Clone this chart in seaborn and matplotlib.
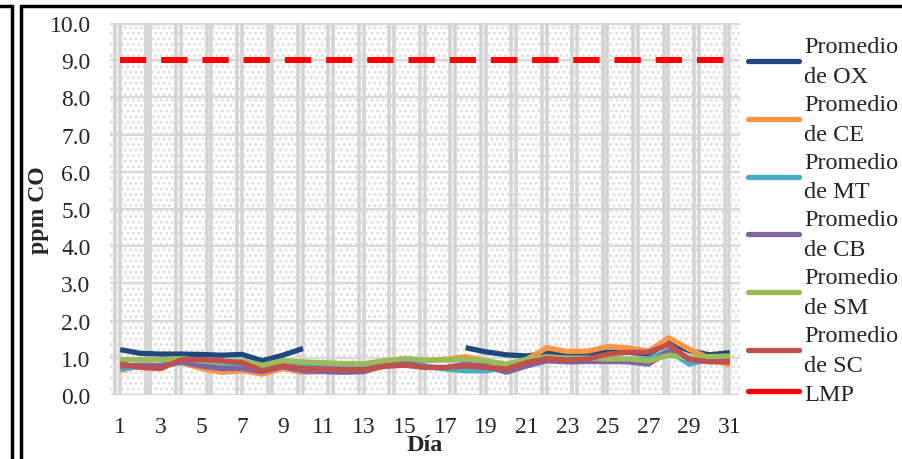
import numpy as np
import pandas as pd
import matplotlib
matplotlib.use("Agg")
import matplotlib.pyplot as plt
import seaborn as sns
from matplotlib.lines import Line2D
from matplotlib.patches import Rectangle

nan = np.nan

days = list(range(1, 32))

ox = [1.22, 1.12, 1.10, 1.10, 1.09, 1.07, 1.09, 0.92, 1.07, 1.25,
      nan, nan, nan, nan, nan, nan, nan,
      1.27, 1.16, 1.08, 1.05, 1.12, 1.10, 1.11, 1.15, 1.15, 1.10, 1.41,
      1.19, 1.08, 1.14]
ce = [0.65, 0.80, 0.80, 0.87, 0.71, 0.61, 0.65, 0.56, 0.71, 0.61,
      0.63, 0.63, 0.63, 0.77, 0.83, 0.92, 0.96, 1.03, 0.92, 0.78,
      0.96, 1.27, 1.17, 1.18, 1.30, 1.27, 1.18, 1.54, 1.23, 0.99, 0.80]
mt = [0.71, 0.76, 0.80, 0.87, 0.83, 0.80, 0.83, 0.74, 0.87, 0.78,
      0.78, 0.74, 0.74, 0.87, 0.92, 0.78, 0.70, 0.65, 0.65, 0.74,
      0.92, 0.98, 0.99, 0.99, 0.97, 0.96, 0.97, 1.19, 0.83, 0.96, 0.97]
cb = [0.78, 0.80, 0.78, 0.89, 0.78, 0.71, 0.71, 0.63, 0.76, 0.65,
      0.63, 0.61, 0.63, 0.82, 0.87, 0.74, 0.74, 0.83, 0.78, 0.61,
      0.78, 0.92, 0.89, 0.90, 0.90, 0.89, 0.83, 1.19, 1.00, 0.96, 0.96]
sm = [0.95, 0.95, 0.95, 0.98, 0.92, 0.89, 0.92, 0.80, 0.92, 0.89,
      0.87, 0.84, 0.84, 0.92, 0.98, 0.94, 0.94, 0.96, 0.92, 0.83,
      0.96, 1.03, 0.99, 0.99, 0.97, 0.97, 0.92, 1.07, 1.00, 1.03, 1.05]
sc = [0.84, 0.74, 0.71, 0.95, 0.95, 0.92, 0.87, 0.65, 0.78, 0.71,
      0.70, 0.68, 0.68, 0.77, 0.80, 0.74, 0.74, 0.78, 0.74, 0.70,
      0.87, 0.98, 0.94, 0.97, 1.10, 1.15, 1.15, 1.36, 0.96, 0.89, 0.89]
lmp = [9.0] * 31

series_names = ["Promedio\nde OX", "Promedio\nde CE", "Promedio\nde MT",
                "Promedio\nde CB", "Promedio\nde SM", "Promedio\nde SC"]
series_values = [ox, ce, mt, cb, sm, sc]
series_colors = ["#1F497D", "#F79646", "#4BACC6", "#8064A2", "#9BBB59", "#C0504D"]

sns.set_style("white")
plt.rcParams["font.family"] = ["Liberation Serif", "DejaVu Serif"]
plt.rcParams["hatch.linewidth"] = 1.4

fig = plt.figure(figsize=(9.02, 4.6), dpi=100)
W, H = 902, 460
ax = fig.add_axes([110 / W, 64 / H, 630 / W, 372 / H])

# hatched background like the Excel plot area
ax.add_patch(Rectangle((0, 0), 1, 1, transform=ax.transAxes, facecolor="white",
                       edgecolor="#e0e0e0", hatch="...", linewidth=0, zorder=0))

# grid
for yv in range(0, 11):
    ax.axhline(yv, color="#d9d9d9", lw=1.6 if yv < 10 else 2.5, zorder=1)
for xv in np.arange(0.75, 31.6, 1.5):
    ax.axvline(xv, color="#d4d4d4", lw=2.6, zorder=1)
    ax.axvline(xv + 0.23, color="#d4d4d4", lw=2.6, zorder=1)

for name, vals, col in zip(series_names, series_values, series_colors):
    s = pd.Series(vals, index=days)
    grp = s.isna().cumsum()
    for _, seg in s.dropna().groupby(grp[s.notna()]):
        sns.lineplot(x=seg.index, y=seg.values, color=col, lw=3.8, ax=ax,
                     zorder=3, solid_capstyle="butt")

sns.lineplot(x=days, y=lmp, color="#FF0000", lw=4.3, ax=ax, zorder=4)
ax.lines[-1].set_dashes([4.4, 2.5])

ax.set_xlim(0.5, 31.5)
ax.set_ylim(0, 10)
ax.set_xticks(range(1, 32, 2))
ax.set_yticks(range(0, 11))
ax.set_yticklabels([f"{v:.1f}" for v in range(0, 11)])
ax.tick_params(axis="x", labelsize=17, pad=15, length=0)
ax.tick_params(axis="y", labelsize=17, pad=14, length=0)
for sp in ax.spines.values():
    sp.set_visible(False)

ax.set_xlabel("Día", fontsize=17.5, fontweight="bold", labelpad=-2)
ax.set_ylabel("ppm CO", fontsize=17, fontweight="bold", labelpad=0)

handles = [Line2D([], [], color=c, lw=3.8) for c in series_colors]
handles.append(Line2D([], [], color="#FF0000", lw=3.8))
leg = ax.legend(handles, series_names + ["LMP"], loc="upper left",
                bbox_to_anchor=(748 / W, 1 - 37 / H), bbox_transform=fig.transFigure,
                frameon=False, fontsize=17.5, handlelength=2.1, handletextpad=0.2,
                labelspacing=0.28, borderaxespad=0, borderpad=0)
for t in leg.get_texts():
    t.set_linespacing(1.56)

# frames of the surrounding document
lw = 2.5
fig.add_artist(Line2D([21 / W, 21 / W], [0, 1 - 7 / H], color="black", lw=lw,
                      transform=fig.transFigure))
fig.add_artist(Line2D([21 / W, 1], [1 - 7 / H, 1 - 7 / H], color="black", lw=lw,
                      transform=fig.transFigure))
fig.add_artist(Line2D([12 / W, 12 / W], [0, 1 - 7 / H], color="black", lw=lw,
                      transform=fig.transFigure))
fig.add_artist(Line2D([0, 12 / W], [1 - 7 / H, 1 - 7 / H], color="black", lw=lw,
                      transform=fig.transFigure))

fig.savefig("out.png", dpi=100)
